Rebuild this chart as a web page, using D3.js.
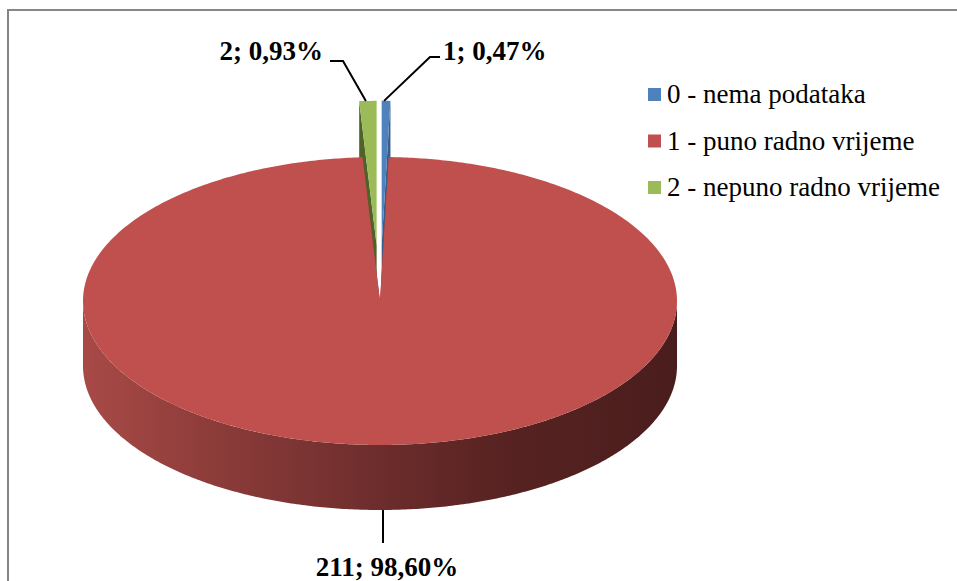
<!DOCTYPE html>
<html lang="hr">
<head>
<meta charset="utf-8">
<title>Radno vrijeme</title>
<style>
  body { margin: 0; background: #fff; }
  svg { display: block; }
</style>
</head>
<body>
<svg id="chart" width="957" height="581"></svg>
<script src="https://cdn.jsdelivr.net/npm/d3@7"></script>
<script>
// data
var categories = ["0 - nema podataka", "1 - puno radno vrijeme", "2 - nepuno radno vrijeme"];
var values = [1, 211, 2];
var colors = ["#4f81bd", "#c0504d", "#9bbb59"];
var wallColors = ["#385d8a", "#8c3a38", "#4f6228"];
var explode = [0.39, 0, 0.39];

var svg = d3.select("#chart");
var serif = "'Liberation Serif', 'Times New Roman', Times, serif";

// pie geometry (projected ellipse)
var cx = 380, cy = 301, rx = 297, ry = 144, depth = 65;

var total = d3.sum(values);
var fmt = d3.format(".2f");
function pctText(v) { return v + "; " + fmt(v / total * 100).replace(".", ",") + "%"; }

var pie = d3.pie().sort(null).value(function(d) { return d; }).startAngle(0).endAngle(2 * Math.PI);
var arcs = pie(values);

function offset(i) {
  var a = arcs[i], mid = (a.startAngle + a.endAngle) / 2, e = explode[i];
  return [e * rx * Math.sin(mid), -e * ry * Math.cos(mid)];
}
function pt(a, r, dz, off) {
  return [cx + off[0] + r * rx * Math.sin(a), cy + off[1] - r * ry * Math.cos(a) + dz];
}
function arcPts(a0, a1, dz, off) {
  var n = Math.max(2, Math.ceil(Math.abs(a1 - a0) / 0.01));
  return d3.range(n + 1).map(function(k) { return pt(a0 + (a1 - a0) * k / n, 1, dz, off); });
}
var line = d3.line();

// side gradient
var defs = svg.append("defs");
var grad = defs.append("linearGradient").attr("id", "side")
  .attr("gradientUnits", "userSpaceOnUse")
  .attr("x1", cx - rx).attr("x2", cx + rx).attr("y1", 0).attr("y2", 0);
[[0, "#a84a47"], [0.2, "#8f3d3b"], [0.5, "#6c2d2c"], [0.7, "#582322"], [1, "#4a1d1d"]].forEach(function(s) {
  grad.append("stop").attr("offset", s[0]).attr("stop-color", s[1]);
});

// chart border
svg.append("rect").attr("x", 8).attr("y", 10).attr("width", 1000).attr("height", 1000)
  .attr("fill", "none").attr("stroke", "#868686").attr("stroke-width", 2);

var g = svg.append("g");

function drawSlice(i) {
  var a = arcs[i], off = offset(i);
  var c0 = pt(0, 0, 0, off), c1 = pt(0, 0, depth, off);
  // radial walls
  [a.startAngle, a.endAngle].forEach(function(ang) {
    var p0 = pt(ang, 1, 0, off), p1 = pt(ang, 1, depth, off);
    g.append("path").attr("d", line([c0, p0, p1, c1]) + "Z").attr("fill", wallColors[i]);
  });
  // outer wall (front half only)
  var s = Math.max(a.startAngle, Math.PI / 2), e = Math.min(a.endAngle, 3 * Math.PI / 2);
  if (e > s) {
    var pts = arcPts(s, e, 0, off).concat(arcPts(e, s, depth, off));
    g.append("path").attr("d", line(pts) + "Z").attr("fill", i === 1 ? "url(#side)" : wallColors[i]);
  }
  // top face
  var top = [c0].concat(arcPts(a.startAngle, a.endAngle, 0, off));
  g.append("path").attr("d", line(top) + "Z").attr("fill", colors[i]);
}

// back (exploded) slices first, then the big one
drawSlice(2);
drawSlice(0);
drawSlice(1);

// data labels with leader lines
function midTop(i) {
  var a = arcs[i];
  return pt((a.startAngle + a.endAngle) / 2, 1, 0, offset(i));
}
var pG = midTop(2), pB = midTop(0);
var leaders = [
  [[pG[0] - 2, pG[1]], [343, 61], [330, 61]],
  [[pB[0] - 2, pB[1]], [430, 57], [440, 57]],
  [[383, cy + ry + depth], [383, 543]]
];
leaders.forEach(function(l) {
  svg.append("path").attr("d", line(l)).attr("fill", "none").attr("stroke", "#000").attr("stroke-width", 2);
});
function label(x, y, anchor, txt) {
  svg.append("text").attr("x", x).attr("y", y).attr("text-anchor", anchor)
    .style("font-family", serif).style("font-weight", "bold").style("font-size", "27px")
    .attr("fill", "#000").text(txt);
}
label(323, 60, "end", pctText(values[2]));
label(443, 60, "start", pctText(values[0]));
label(387, 576, "middle", pctText(values[1]));

// legend
var leg = svg.append("g").attr("transform", "translate(648,88)");
var rows = leg.selectAll("g").data(categories).enter().append("g")
  .attr("transform", function(d, i) { return "translate(0," + (i * 46.5) + ")"; });
rows.append("rect").attr("width", 13).attr("height", 13).attr("fill", function(d, i) { return colors[i]; });
rows.append("text").attr("x", 19).attr("y", 15)
  .style("font-family", serif).style("font-size", "27px").attr("fill", "#000")
  .text(function(d) { return d; });
</script>
</body>
</html>
